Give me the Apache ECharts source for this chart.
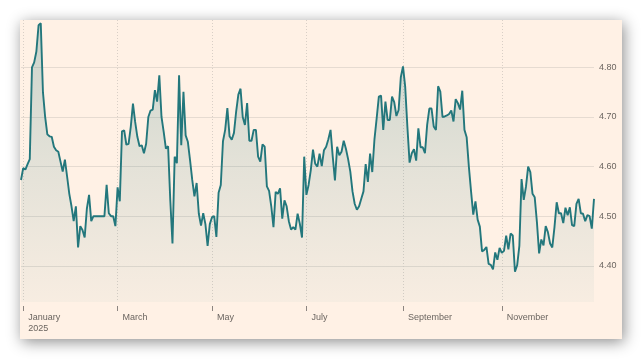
<!DOCTYPE html>
<html><head><meta charset="utf-8">
<script src="https://cdn.jsdelivr.net/npm/echarts@6/dist/echarts.min.js"></script>
<style>html,body{margin:0;padding:0;background:#ffffff;}#c{width:642px;height:360px;}</style>
</head><body><div id="c"></div>
<script>
// First category date (weekday series), month tick labels, y tick values
const startDate = [2024, 11, 31];
const monthNames = ['January\n2025', '', 'March', '', 'May', '', 'July', '', 'September', '', 'November', ''];
const yTicks = [4.4, 4.5, 4.6, 4.7, 4.8];

// Yield values, in chronological order
const part1 = [4.573, 4.597, 4.594, 4.605, 4.615, 4.80, 4.81, 4.832, 4.885, 4.889, 4.75, 4.70, 4.665, 4.661, 4.66, 4.64, 4.633, 4.63, 4.61, 4.59, 4.614, 4.58, 4.545, 4.52, 4.49, 4.52, 4.437, 4.48, 4.472, 4.457, 4.515, 4.543, 4.49, 4.50, 4.50, 4.50, 4.50, 4.50, 4.50, 4.563, 4.506, 4.50, 4.50, 4.48, 4.558];
const part2 = [4.53, 4.671, 4.673, 4.644, 4.646, 4.68, 4.727, 4.69, 4.66, 4.641, 4.643, 4.627, 4.646, 4.70, 4.713, 4.715, 4.754, 4.731, 4.784, 4.70, 4.67, 4.636, 4.641, 4.532, 4.445, 4.62, 4.607, 4.784, 4.643, 4.751, 4.663, 4.65, 4.613, 4.573, 4.54, 4.567, 4.505, 4.481, 4.506, 4.484, 4.44, 4.484, 4.498, 4.50];
const part3 = [4.458, 4.547, 4.563, 4.651, 4.674, 4.718, 4.661, 4.654, 4.668, 4.711, 4.745, 4.757, 4.70, 4.684, 4.728, 4.652, 4.652, 4.674, 4.674, 4.62, 4.61, 4.645, 4.64, 4.56, 4.551, 4.52, 4.478, 4.549, 4.545, 4.556, 4.495, 4.532, 4.52, 4.49, 4.473, 4.478, 4.473, 4.505, 4.485, 4.457, 4.62, 4.543, 4.563, 4.593];
const part4 = [4.634, 4.606, 4.60, 4.626, 4.601, 4.633, 4.64, 4.655, 4.674, 4.62, 4.572, 4.64, 4.623, 4.63, 4.652, 4.636, 4.615, 4.59, 4.55, 4.525, 4.513, 4.52, 4.535, 4.55, 4.605, 4.569, 4.626, 4.589, 4.655, 4.697, 4.741, 4.743, 4.674, 4.731, 4.694, 4.694, 4.741, 4.73, 4.702, 4.714, 4.78, 4.802, 4.761, 4.68];
const part5 = [4.608, 4.627, 4.635, 4.612, 4.677, 4.639, 4.639, 4.627, 4.684, 4.717, 4.717, 4.681, 4.674, 4.762, 4.751, 4.70, 4.701, 4.703, 4.706, 4.713, 4.691, 4.736, 4.728, 4.715, 4.753, 4.674, 4.659, 4.60, 4.55, 4.503, 4.53, 4.493, 4.479, 4.429, 4.432, 4.438, 4.404, 4.402, 4.393, 4.427, 4.412, 4.436, 4.426, 4.43];
const part6 = [4.461, 4.433, 4.465, 4.461, 4.388, 4.401, 4.44, 4.575, 4.533, 4.559, 4.60, 4.589, 4.545, 4.538, 4.488, 4.425, 4.453, 4.441, 4.48, 4.468, 4.445, 4.437, 4.478, 4.528, 4.506, 4.506, 4.486, 4.517, 4.502, 4.518, 4.482, 4.48, 4.525, 4.535, 4.506, 4.505, 4.49, 4.502, 4.50, 4.475, 4.535];

const values = [].concat(part1, part2, part3, part4, part5, part6);

// weekday date categories
const categories = [];
let d = new Date(Date.UTC(startDate[0], startDate[1], startDate[2]));
while (categories.length < values.length) {
  const wd = d.getUTCDay();
  if (wd !== 0 && wd !== 6) categories.push(d.toISOString().slice(0, 10));
  d = new Date(d.getTime() + 86400000);
}
function isLabelled(i) {
  if (i <= 0) return false;
  const m = categories[i].slice(5, 7), pm = categories[i - 1].slice(5, 7);
  return m !== pm && monthNames[+m - 1] !== '';
}

const FONT = 'Liberation Sans, Arial, sans-serif';
const chart = echarts.init(document.getElementById('c'), null, {renderer: 'canvas'});
chart.setOption({
  animation: false,
  backgroundColor: '#ffffff',
  graphic: [{
    type: 'rect', z: -10, silent: true,
    shape: {x: 20, y: 20, width: 602, height: 319},
    style: {fill: '#fff1e5', shadowBlur: 14, shadowOffsetX: 2, shadowOffsetY: 3, shadowColor: 'rgba(0,0,0,0.45)'}
  }],
  grid: {left: 21, right: 48, top: 20, bottom: 58},
  xAxis: {
    type: 'category',
    data: categories,
    boundaryGap: false,
    offset: 4,
    axisLine: {show: false},
    axisTick: {show: true, interval: (i) => isLabelled(i), length: 5, lineStyle: {color: '#8c8580', width: 1}},
    axisLabel: {
      interval: (i) => isLabelled(i),
      formatter: (v) => monthNames[+v.slice(5, 7) - 1],
      align: 'left', margin: 6, padding: [0, 0, 0, 5],
      color: '#6b6560', fontSize: 9, fontFamily: FONT, lineHeight: 11
    },
    splitLine: {show: true, interval: (i) => isLabelled(i), lineStyle: {color: '#d9cfc6', type: [1, 2], width: 1}}
  },
  yAxis: {
    type: 'value',
    position: 'right',
    min: 4.327,
    max: 4.8955,
    axisLine: {show: false},
    axisTick: {show: false},
    axisLabel: {
      margin: 5, color: '#6b6560', fontSize: 9, fontFamily: FONT,
      showMinLabel: false, showMaxLabel: false,
      formatter: (v) => yTicks.some(t => Math.abs(t - v) < 1e-6) ? v.toFixed(2) : ''
    },
    splitLine: {show: true, showMinLine: false, showMaxLine: false, lineStyle: {color: '#e6dbd1', width: 1}}
  },
  series: [{
    type: 'line',
    data: values,
    symbol: 'none',
    lineStyle: {color: '#23777c', width: 1.9},
    areaStyle: {
      color: new echarts.graphic.LinearGradient(0, 0, 0, 1, [
        {offset: 0, color: 'rgba(35,119,124,0.34)'},
        {offset: 0.5, color: 'rgba(35,119,124,0.18)'},
        {offset: 1, color: 'rgba(35,119,124,0.05)'}
      ])
    }
  }]
});
</script></body></html>
